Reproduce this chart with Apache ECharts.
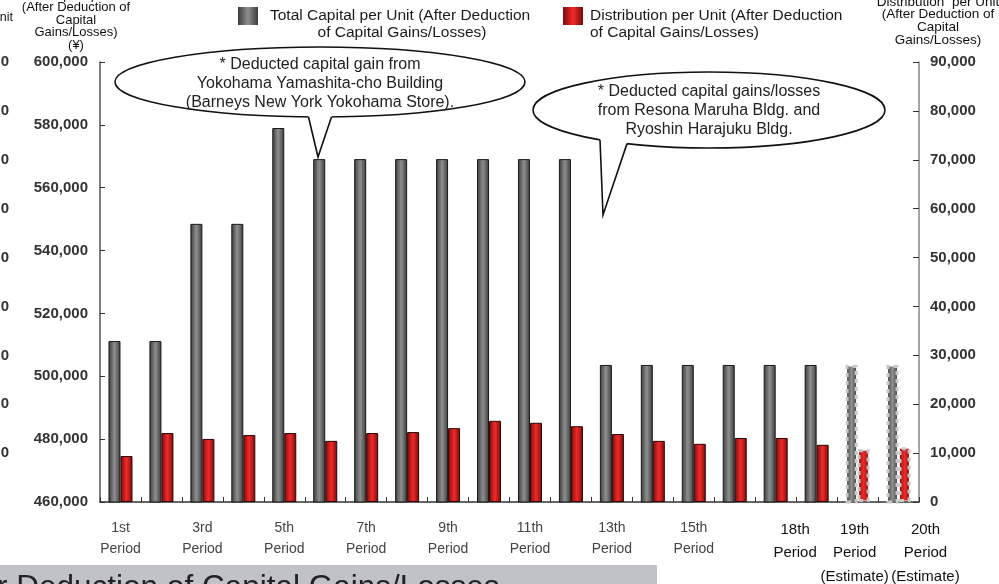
<!DOCTYPE html>
<html>
<head>
<meta charset="utf-8">
<script src="https://cdn.jsdelivr.net/npm/echarts@6/dist/echarts.min.js"></script>
<style>
  html, body { margin: 0; padding: 0; background: #ffffff; }
  #chart { width: 999px; height: 584px; }
</style>
</head>
<body>
<div id="chart"></div>
<script>
// Fiscal periods on the category axis
const periods = ['1st', '2nd', '3rd', '4th', '5th', '6th', '7th', '8th', '9th', '10th',
  '11th', '12th', '13th', '14th', '15th', '16th', '17th', '18th', '19th', '20th'];

// Tick labels shown under the axis (blank = not labelled)
const periodLabels = ['1st\nPeriod', '', '3rd\nPeriod', '', '5th\nPeriod', '', '7th\nPeriod', '',
  '9th\nPeriod', '', '11th\nPeriod', '', '13th\nPeriod', '', '15th\nPeriod', '', '',
  '18th\nPeriod', '19th\nPeriod\n(Estimate)', '20th\nPeriod\n(Estimate)'];

// Total capital per unit after deduction of capital gains/losses (yen)
const totalCapital = [511200, 511200, 548500, 548500, 579000, 569100, 569100, 569100, 569100, 569100,
  569100, 569100, 503600, 503600, 503600, 503600, 503600, 503600, 503600, 503600];

// Distribution per unit after deduction of capital gains/losses (yen)
const distribution = [9400, 14100, 12900, 13700, 14100, 12500, 14100, 14300, 15100, 16600,
  16200, 15500, 13900, 12500, 11900, 13100, 13100, 11700, 10800, 11200];

// Periods from this index on are estimates
const firstEstimate = 18;

// Tick values of the neighbouring (cropped) panel on the far left
const croppedTicks = ['90,000', '80,000', '70,000', '60,000', '50,000', '40,000', '30,000', '20,000', '10,000'];

const FONT = 'Liberation Sans, Arial, sans-serif';

const chart = echarts.init(document.getElementById('chart'), null, { renderer: 'canvas' });

const grayFill = new echarts.graphic.LinearGradient(0, 0, 1, 0, [
  { offset: 0, color: '#3b3b3b' }, { offset: 0.5, color: '#8f8f8f' }, { offset: 1, color: '#3b3b3b' }
]);
const redFill = new echarts.graphic.LinearGradient(0, 0, 1, 0, [
  { offset: 0, color: '#7a0b0b' }, { offset: 0.5, color: '#f22a2a' }, { offset: 1, color: '#7a0b0b' }
]);

const estimateStyle = { borderColor: '#c6c6c6', borderWidth: 3, borderType: [4, 4] };
function withEstimates(values) {
  return values.map((v, i) => i >= firstEstimate ? { value: v, itemStyle: estimateStyle } : v);
}

// Offsets for the hand-placed labels of the last periods
const labelShift = { 17: [0, 43, 0, 0], 18: [0, 6, 0, 0], 19: [0, 0, 0, 54] };
const labelRich = {};
Object.keys(labelShift).forEach(k => {
  labelRich['e' + k] = { fontSize: 15, color: '#111', lineHeight: 23.5, fontFamily: FONT, padding: labelShift[k] };
});

function thousands(v) { return v.toLocaleString('en-US'); }

// Speech-bubble callout: ellipse plus a pointed tail
function callout(cx, cy, rx, ry, baseL, baseR, tip, lines, textY) {
  const edgeY = x => cy + ry * Math.sqrt(Math.max(0, 1 - Math.pow((x - cx) / rx, 2)));
  const pL = [baseL, edgeY(baseL)], pR = [baseR, edgeY(baseR)];
  const ext = (p) => { // extend a tail side a little past the ellipse edge
    const dx = p[0] - tip[0], dy = p[1] - tip[1], len = Math.hypot(dx, dy);
    return [p[0] + dx / len * 5, p[1] + dy / len * 5];
  };
  return [
    { type: 'ellipse', shape: { cx, cy, rx, ry }, style: { fill: '#fff', stroke: '#111', lineWidth: 1.6 }, z: 10 },
    { type: 'polygon', shape: { points: [ext(pL), tip, ext(pR)] }, style: { fill: '#fff', stroke: null }, z: 11 },
    { type: 'polyline', shape: { points: [pL, tip, pR] }, style: { stroke: '#111', lineWidth: 1.6, fill: null }, z: 12 },
    { type: 'text', x: cx, y: textY, z: 13,
      style: { text: lines.join('\n'), fontSize: 16, lineHeight: 19, fontFamily: FONT, fill: '#222', align: 'center', verticalAlign: 'top' } }
  ];
}

const legendText = { fontSize: 15.5, fontFamily: FONT, fill: '#1a1a1a', verticalAlign: 'middle' };

const graphics = [
  // Axis titles
  { type: 'text', x: 76, y: -11,
    style: { text: 'Total Capital per Unit\n(After Deduction of\nCapital\nGains/Losses)\n(¥)', fontSize: 13, lineHeight: 12.5, fontFamily: FONT, fill: '#111', align: 'center', verticalAlign: 'top' } },
  { type: 'text', x: 938, y: -4.5,
    style: { text: 'Distribution  per Unit\n(After Deduction of\nCapital\nGains/Losses)', fontSize: 13.5, lineHeight: 12.7, fontFamily: FONT, fill: '#111', align: 'center', verticalAlign: 'top' } },
  // Second lines of the legend entries
  { type: 'text', x: 402, y: 33, style: Object.assign({ text: 'of Capital Gains/Losses)', align: 'center' }, legendText) },
  { type: 'text', x: 590, y: 33, style: Object.assign({ text: 'of Capital Gains/Losses)', align: 'left' }, legendText) },
  // Neighbouring panel, cut at the edge
  { type: 'text', x: 13, y: 18,
    style: { text: 'per Unit', fontSize: 12.5, fontFamily: FONT, fill: '#111', align: 'right', verticalAlign: 'middle' } },
  ...croppedTicks.map((t, i) => ({ type: 'text', x: 9, y: 62 + i * 48.9,
    style: { text: t, fontSize: 15, fontWeight: 'bold', fontFamily: FONT, fill: '#333', align: 'right', verticalAlign: 'middle' } })),
  // Caption strip along the bottom
  { type: 'rect', shape: { x: 0, y: 565, width: 657, height: 19 }, style: { fill: '#c1c2c5' } },
  { type: 'text', x: -59, y: 572,
    style: { text: 'After Deduction of Capital Gains/Losses', fontSize: 31.5, fontFamily: FONT, fill: '#222', verticalAlign: 'top' } },
  // Callouts
  ...callout(320, 82, 205, 35, 308.5, 331.5, [318, 157],
    ['* Deducted capital gain from', 'Yokohama Yamashita-cho Building', '(Barneys New York Yokohama Store).'], 55.5),
  ...callout(709, 110, 176, 38, 600, 627, [603, 215],
    ['* Deducted capital gains/losses', 'from Resona Maruha Bldg. and', 'Ryoshin Harajuku Bldg.'], 82.5)
];

const option = {
  animation: false,
  backgroundColor: '#ffffff',
  textStyle: { fontFamily: FONT },
  grid: { left: 100, right: 80, top: 62, bottom: 82, containLabel: false, outerBoundsMode: 'none' },
  legend: [
    {
      data: ['Total Capital per Unit (After Deduction of Capital Gains/Losses)'],
      left: 238, top: 7, padding: 0, itemWidth: 20, itemHeight: 18, selectedMode: false, icon: 'rect',
      itemStyle: { borderWidth: 0 },
      formatter: () => 'Total Capital per Unit (After Deduction',
      textStyle: { fontSize: 15.5, color: '#1a1a1a', fontFamily: FONT, padding: [0, 0, 0, 7] }
    },
    {
      data: ['Distribution per Unit (After Deduction of Capital Gains/Losses)'],
      left: 563, top: 7, padding: 0, itemWidth: 20, itemHeight: 18, selectedMode: false, icon: 'rect',
      itemStyle: { borderWidth: 0 },
      formatter: () => 'Distribution per Unit (After Deduction',
      textStyle: { fontSize: 15.5, color: '#1a1a1a', fontFamily: FONT, padding: [0, 0, 0, 2] }
    }
  ],
  xAxis: {
    type: 'category',
    data: periods,
    axisLine: { lineStyle: { color: '#333', width: 1.5 } },
    axisTick: { show: true, inside: true, length: 5, alignWithLabel: false, lineStyle: { color: '#333' } },
    axisLabel: {
      interval: 0, margin: 16, fontSize: 14, lineHeight: 21, color: '#444', fontFamily: FONT,
      rich: labelRich,
      formatter: (value, index) => {
        const text = periodLabels[index];
        if (!text) return '';
        if (labelShift[index]) return text.split('\n').map(l => '{e' + index + '|' + l + '}').join('\n');
        return text;
      }
    }
  },
  yAxis: [
    {
      type: 'value', min: 460000, max: 600000, interval: 20000,
      axisLine: { show: true, lineStyle: { color: '#555', width: 1.5 } },
      axisTick: { show: true, inside: true, length: 5, lineStyle: { color: '#333' } },
      splitLine: { show: false },
      axisLabel: { margin: 12, fontSize: 15, fontWeight: 'bold', color: '#333', fontFamily: FONT, formatter: thousands }
    },
    {
      type: 'value', min: 0, max: 90000, interval: 10000, position: 'right',
      axisLine: { show: true, lineStyle: { color: '#888', width: 1.5 } },
      axisTick: { show: true, inside: true, length: 6, lineStyle: { color: '#333' } },
      splitLine: { show: false },
      axisLabel: { margin: 11, fontSize: 15, fontWeight: 'bold', color: '#333', fontFamily: FONT, formatter: thousands }
    }
  ],
  series: [
    {
      name: 'Total Capital per Unit (After Deduction of Capital Gains/Losses)',
      type: 'bar', yAxisIndex: 0, barWidth: 12, barGap: '0%',
      itemStyle: { color: grayFill, borderColor: '#1a1a1a', borderWidth: 1 },
      data: withEstimates(totalCapital)
    },
    {
      name: 'Distribution per Unit (After Deduction of Capital Gains/Losses)',
      type: 'bar', yAxisIndex: 1, barWidth: 12, barGap: '0%',
      itemStyle: { color: redFill, borderColor: '#2a0505', borderWidth: 1 },
      data: withEstimates(distribution)
    }
  ],
  graphic: graphics
};

chart.setOption(option);
</script>
</body>
</html>
